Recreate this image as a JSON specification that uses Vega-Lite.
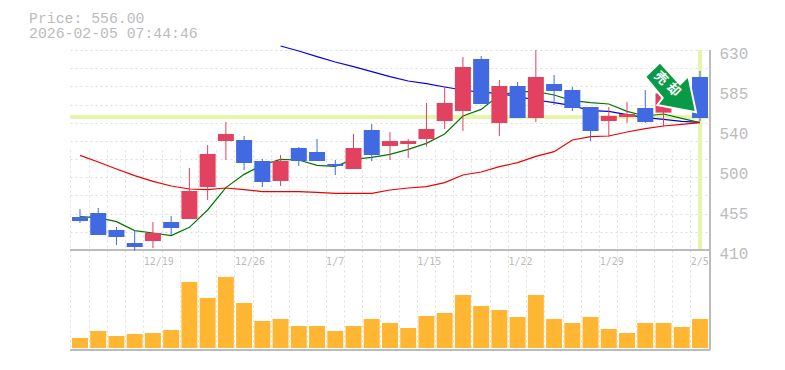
{
"$schema":"https://vega.github.io/schema/vega-lite/v6.json",
"width":640,"height":300,
"autosize":"none",
"padding":{"left":70,"top":50,"right":75,"bottom":20},
"background":"white",
"title":{"text":["Price: 556.00","2026-02-05 07:44:46"],"anchor":"start","frame":"group","dx":-41,"offset":3,"font":"Liberation Mono","fontSize":14.8,"fontWeight":"normal","color":"#bbbbbb","lineHeight":15},
"config":{"view":{"stroke":null}},
"data":{"values":[
{"i":0,"dir":"down","high":455.1,"top":446.3,"bottom":441.9,"low":439.7,"ma5":446.7,"ma25":514.1,"vol":10},
{"i":1,"dir":"down","high":456.2,"top":450.7,"bottom":426.5,"low":426.5,"ma5":445.6,"ma25":506.8,"vol":17},
{"i":2,"dir":"down","high":435.3,"top":432.0,"bottom":424.3,"low":415.5,"ma5":441.2,"ma25":499.1,"vol":12},
{"i":3,"dir":"down","high":432.0,"top":417.7,"bottom":413.3,"low":409.3,"ma5":431.3,"ma25":491.8,"vol":14},
{"i":4,"dir":"up","high":440.8,"top":428.7,"bottom":419.9,"low":412.2,"ma5":428.7,"ma25":485.5,"vol":15},
{"i":5,"dir":"down","high":447.4,"top":440.8,"bottom":434.2,"low":426.5,"ma5":425.8,"ma25":480.4,"vol":18},
{"i":6,"dir":"up","high":500.2,"top":474.9,"bottom":444.1,"low":444.1,"ma5":434.9,"ma25":477.1,"vol":66},
{"i":7,"dir":"up","high":525.5,"top":515.6,"bottom":479.3,"low":465.0,"ma5":454.0,"ma25":476.4,"vol":50},
{"i":8,"dir":"up","high":550.8,"top":537.6,"bottom":529.9,"low":509.0,"ma5":478.6,"ma25":478.2,"vol":71},
{"i":9,"dir":"down","high":535.4,"top":531.0,"bottom":505.7,"low":498.0,"ma5":493.2,"ma25":476.4,"vol":45},
{"i":10,"dir":"down","high":510.1,"top":507.9,"bottom":484.8,"low":479.3,"ma5":503.5,"ma25":474.2,"vol":27},
{"i":11,"dir":"up","high":514.5,"top":507.9,"bottom":485.9,"low":480.4,"ma5":509.7,"ma25":474.2,"ma75":634.4,"vol":29},
{"i":12,"dir":"down","high":523.3,"top":522.2,"bottom":507.9,"low":502.4,"ma5":509.0,"ma25":474.2,"ma75":628.9,"vol":22},
{"i":13,"dir":"down","high":532.1,"top":517.8,"bottom":507.9,"low":507.9,"ma5":503.1,"ma25":473.4,"ma75":622.7,"vol":22},
{"i":14,"dir":"down","high":509.0,"top":504.6,"bottom":502.4,"low":492.5,"ma5":502.0,"ma25":472.3,"ma75":616.8,"vol":17},
{"i":15,"dir":"up","high":537.6,"top":522.2,"bottom":499.1,"low":499.1,"ma5":509.7,"ma25":472.3,"ma75":611.7,"vol":22},
{"i":16,"dir":"down","high":548.6,"top":542.0,"bottom":514.5,"low":507.9,"ma5":511.9,"ma25":472.3,"ma75":606.2,"vol":29},
{"i":17,"dir":"up","high":539.8,"top":529.9,"bottom":524.4,"low":509.0,"ma5":515.2,"ma25":476.0,"ma75":600.7,"vol":25},
{"i":18,"dir":"up","high":532.1,"top":529.9,"bottom":526.6,"low":511.2,"ma5":520.7,"ma25":478.2,"ma75":595.9,"vol":20},
{"i":19,"dir":"up","high":571.7,"top":543.1,"bottom":532.1,"low":523.7,"ma5":527.3,"ma25":479.7,"ma75":593.0,"vol":32},
{"i":20,"dir":"up","high":589.3,"top":571.7,"bottom":551.9,"low":543.1,"ma5":537.6,"ma25":484.1,"ma75":589.3,"vol":35},
{"i":21,"dir":"up","high":622.3,"top":611.3,"bottom":562.9,"low":540.9,"ma5":557.4,"ma25":492.5,"ma75":586.0,"vol":53},
{"i":22,"dir":"down","high":623.4,"top":620.1,"bottom":570.6,"low":570.6,"ma5":564.7,"ma25":495.8,"ma75":583.4,"vol":42},
{"i":23,"dir":"up","high":597.0,"top":590.4,"bottom":549.7,"low":535.4,"ma5":580.5,"ma25":501.7,"ma75":582.3,"vol":38},
{"i":24,"dir":"down","high":594.8,"top":590.4,"bottom":555.2,"low":555.2,"ma5":584.2,"ma25":506.1,"ma75":578.7,"vol":31},
{"i":25,"dir":"up","high":630.0,"top":600.3,"bottom":555.2,"low":550.8,"ma5":584.2,"ma25":513.0,"ma75":575.0,"vol":53},
{"i":26,"dir":"down","high":602.5,"top":592.6,"bottom":584.9,"low":569.5,"ma5":580.5,"ma25":518.2,"ma75":572.1,"vol":29},
{"i":27,"dir":"down","high":589.3,"top":586.0,"bottom":566.2,"low":562.9,"ma5":574.3,"ma25":531.0,"ma75":568.8,"vol":25},
{"i":28,"dir":"down","high":567.3,"top":567.3,"bottom":540.9,"low":529.9,"ma5":572.1,"ma25":534.7,"ma75":563.3,"vol":31},
{"i":29,"dir":"up","high":567.3,"top":557.4,"bottom":551.9,"low":534.7,"ma5":570.6,"ma25":535.4,"ma75":562.5,"vol":19},
{"i":30,"dir":"up","high":572.8,"top":559.6,"bottom":556.3,"low":549.7,"ma5":562.5,"ma25":539.8,"ma75":558.9,"vol":15},
{"i":31,"dir":"down","high":586.0,"top":566.2,"bottom":550.8,"low":549.7,"ma5":557.4,"ma25":543.5,"ma75":555.6,"vol":25},
{"i":32,"dir":"up","high":586.0,"top":582.3,"bottom":561.1,"low":545.7,"ma5":559.6,"ma25":546.4,"ma75":553.7,"vol":25},
{"i":33,"dir":"up","high":578.7,"top":575.0,"bottom":567.7,"low":565.8,"ma5":554.8,"ma25":548.2,"ma75":551.5,"vol":21},
{"i":34,"dir":"down","high":606.9,"top":600.3,"bottom":555.2,"low":551.9,"ma5":550.1,"ma25":550.1,"ma75":550.4,"vol":29}
]},
"layer":[
{"layer":[
{"mark":{"type":"rule","color":"#e5f5a9","strokeWidth":3},
 "encoding":{
  "x":{"datum":34,"type":"quantitative","title":null,
   "scale":{"domain":[-0.548,34.55],"nice":false,"zero":false,"padding":0},
   "axis":{"tickCount":100,"values":[-0.53,0.47,1.47,2.47,3.47,4.47,5.47,6.47,7.47,8.47,9.47,10.47,11.47,12.47,13.47,14.47,15.47,16.47,17.47,18.47,19.47,20.47,21.47,22.47,23.47,24.47,25.47,26.47,27.47,28.47,29.47,30.47,31.47,32.47,33.47,34.47],
    "format":".2f","labelExpr":"{'3.47':'12/19','8.47':'12/26','13.47':'1/7','18.47':'1/15','23.47':'1/22','28.47':'1/29','33.47':'2/5'}[datum.label] || ''",
    "grid":true,"gridColor":"#dddddd","gridDash":[2,3],"gridWidth":1,"domain":false,"ticks":false,
    "labelAlign":"left","labelBaseline":"top","labelPadding":-94,"labelFont":"DejaVu Sans Mono","labelFontSize":10,"labelColor":"#bbbbbb","labelOverlap":false,"labelFlush":false,"labelBound":false,"title":null}},
  "y":{"datum":630,"type":"quantitative","title":null,
   "scale":{"domain":[410,630],"range":[200,0],"nice":false,"zero":false},
   "axis":{"tickCount":100,"values":[630,610,590,570,550,530,510,490,470,450,430,410],"grid":true,"gridColor":"#dddddd","gridDash":[2,3],"gridWidth":1,"labels":false,"ticks":false,"domain":false,"title":null}},
  "y2":{"datum":410}
 }},
{"mark":{"type":"rule","color":"#e5f5a9","strokeWidth":3},
 "encoding":{
  "y":{"datum":556,"type":"quantitative","title":null,
   "axis":{"tickCount":100,"orient":"right","values":[630,586,542,498,454,410],"labelExpr":"{'586':'585','542':'540','498':'500','454':'455'}[datum.label] || datum.label",
    "grid":false,"ticks":false,"domain":false,"labelPadding":9,"labelOffset":3,"labelFont":"Liberation Mono","labelFontSize":16,"labelColor":"#bbbbbb","labelOverlap":false,"labelFlush":false,"labelBound":false,"labelAlign":"left","title":null}}
 }},
{"mark":{"type":"rule","color":"#bbbbbb","strokeWidth":1},
 "encoding":{"y":{"datum":410,"type":"quantitative","axis":null}}},
{"mark":{"type":"line","color":"#0000ee","strokeWidth":1.2,"clip":false,"interpolate":"linear"},
 "encoding":{"x":{"field":"i","type":"quantitative","title":null},"y":{"field":"ma75","type":"quantitative","axis":null}}},
{"mark":{"type":"line","color":"#007700","strokeWidth":1.2,"interpolate":"linear"},
 "encoding":{"x":{"field":"i","type":"quantitative","title":null},"y":{"field":"ma5","type":"quantitative","axis":null}}},
{"mark":{"type":"line","color":"#ee0000","strokeWidth":1.2,"interpolate":"linear"},
 "encoding":{"x":{"field":"i","type":"quantitative","title":null},"y":{"field":"ma25","type":"quantitative","axis":null}}},
{"mark":{"type":"rule","strokeWidth":1},
 "encoding":{"x":{"field":"i","type":"quantitative","title":null},"y":{"field":"high","type":"quantitative","axis":null},"y2":{"field":"low"},
  "color":{"field":"dir","type":"nominal","legend":null,"scale":{"domain":["up","down"],"range":["#e2425f","#4169e1"]}}}},
{"mark":{"type":"bar","width":16,"orient":"vertical"},
 "encoding":{"x":{"field":"i","type":"quantitative","title":null},"y":{"field":"top","type":"quantitative","axis":null},"y2":{"field":"bottom"},
  "color":{"field":"dir","type":"nominal","legend":null}}},
{"data":{"values":[{"i":32.5,"p":582.7}]},
 "mark":{"type":"point","filled":true,"size":4,"fill":"#089a46","stroke":"#ffffff","strokeWidth":2,"opacity":1,"shape":"M-27.6,-16.3L-12.6,-30.7L7.4,-8.7L15.7,-17L23.4,19.3L-15.3,12L-9.9,5Z"},
 "encoding":{"x":{"field":"i","type":"quantitative","title":null},"y":{"field":"p","type":"quantitative","axis":null}}},
{"data":{"values":[{"i":31.86,"p":598.9,"t":"売"},{"i":32.54,"p":586,"t":"却"}]},
 "mark":{"type":"text","angle":45,"font":"Noto Sans CJK JP","fontWeight":"bold","fontSize":13,"color":"#ffffff","align":"center","baseline":"middle"},
 "encoding":{"x":{"field":"i","type":"quantitative","title":null},"y":{"field":"p","type":"quantitative","axis":null},"text":{"field":"t","type":"nominal"}}}
],"resolve":{"axis":{"y":"independent"}}},
{"layer":[
{"mark":{"type":"bar","width":16,"orient":"vertical","color":"#ffb733"},
 "encoding":{"x":{"field":"i","type":"quantitative","title":null},
  "y":{"field":"vol","type":"quantitative","axis":null,"title":null,"scale":{"domain":[-2,98],"range":[300,200],"nice":false,"zero":false}},
  "y2":{"datum":0}}},
{"mark":{"type":"rule","color":"#bbbbbb","strokeWidth":1},
 "encoding":{"y":{"datum":-2,"type":"quantitative","axis":null}}},
{"mark":{"type":"rule","color":"#bbbbbb","strokeWidth":1},
 "encoding":{"x":{"datum":34.55,"type":"quantitative","title":null}}}
]}
],
"resolve":{"scale":{"y":"independent"}}
}
